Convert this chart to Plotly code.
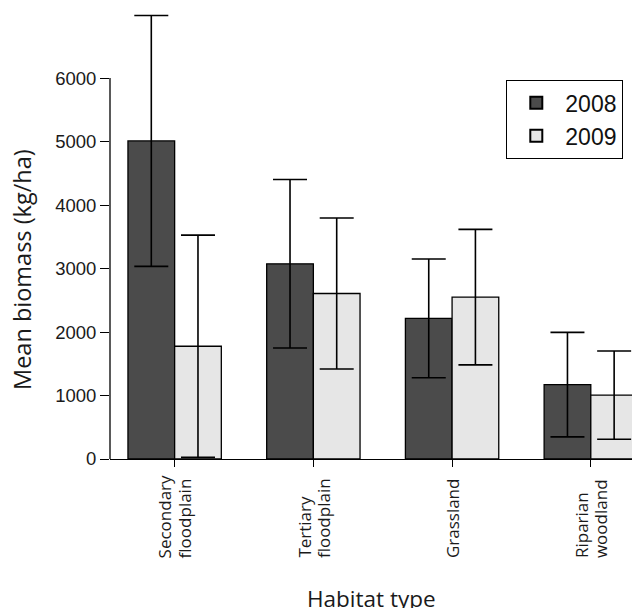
import plotly.graph_objects as go

categories = ["Secondary\nfloodplain", "Tertiary\nfloodplain", "Grassland", "Riparian\nwoodland"]
years = ["2008", "2009"]
mean_2008 = [5010, 3075, 2215, 1172]
err_2008 = [1976, 1327, 935, 823]
mean_2009 = [1776, 2607, 2550, 1007]
err_2009 = [1750, 1190, 1067, 695]
y_ticks = [0, 1000, 2000, 3000, 4000, 5000, 6000]

colors = ["#4b4b4b", "#e6e6e6"]
W, H = 632, 608
ML, MR, MT, MB = 110, 0, 0, 149
plot_w = W - ML - MR
plot_h = H - MT - MB

x_idx = list(range(len(categories)))
fig = go.Figure()
for name, vals, errs, col in [(years[0], mean_2008, err_2008, colors[0]),
                              (years[1], mean_2009, err_2009, colors[1])]:
    fig.add_trace(go.Bar(
        x=x_idx, y=vals, name=name,
        marker=dict(color=col, line=dict(color="black", width=1.3)),
        error_y=dict(type="data", array=errs, visible=True, color="black",
                     thickness=1.6, width=17),
    ))

# y axis line spanning only the tick range (R style)
fig.add_shape(type="line", xref="paper", yref="y", x0=0, x1=0,
              y0=y_ticks[0], y1=y_ticks[-1], line=dict(color="black", width=1.3))

# category labels (rotated, start-aligned)
line_gap = 19.5
for i, lab in enumerate(categories):
    lines = lab.split("\n")
    n = len(lines)
    for j, ln in enumerate(lines):
        fig.add_annotation(
            x=i, xref="x", y=(plot_h - (560 - MT)) / plot_h, yref="paper",
            text=ln, textangle=-90, showarrow=False,
            xanchor="center", yanchor="bottom",
            xshift=(j - (n - 1) / 2) * line_gap,
            font=dict(family="Open Sans", size=17, color="#1a1a1a"),
        )

fig.add_annotation(x=0.5, xref="paper", y=(plot_h - (598 - MT)) / plot_h, yref="paper",
                   text="Habitat type", showarrow=False, xanchor="center", yanchor="middle",
                   font=dict(family="Open Sans", size=22.5, color="#1a1a1a"))
fig.add_annotation(x=(22 - ML) / plot_w, xref="paper", y=(plot_h - (270 - MT)) / plot_h, yref="paper",
                   text="Mean biomass (kg/ha)", textangle=-90, showarrow=False,
                   xanchor="center", yanchor="middle",
                   font=dict(family="Open Sans", size=23.5, color="#1a1a1a"))

fig.update_layout(
    width=W, height=H,
    margin=dict(l=ML, r=MR, t=MT, b=MB, pad=0),
    paper_bgcolor="white", plot_bgcolor="white",
    barmode="group", bargap=0.327, bargroupgap=0,
    showlegend=True,
    legend=dict(x=(506 - ML) / plot_w, y=(plot_h - (80 - MT)) / plot_h,
                xanchor="left", yanchor="top",
                bordercolor="black", borderwidth=1.3, bgcolor="white",
                font=dict(family="Liberation Sans", size=23, color="#111"),
                itemsizing="constant", itemwidth=48),
    xaxis=dict(range=[-0.466, 3.297], tickvals=x_idx, showticklabels=False,
               ticks="outside", ticklen=7, tickwidth=1.3, tickcolor="black",
               showline=True, linecolor="black", linewidth=1.3,
               showgrid=False, zeroline=False),
    yaxis=dict(range=[0, 7230], tickvals=y_ticks, ticks="outside", ticklen=9,
               tickwidth=1.3, tickcolor="black", showline=False,
               showgrid=False, zeroline=False,
               tickfont=dict(family="Liberation Sans", size=18.5, color="#1a1a1a")),
)

fig.write_html("out.html", config={"displayModeBar": False},
               post_script="document.body.style.margin='0';document.body.style.overflow='hidden';")
